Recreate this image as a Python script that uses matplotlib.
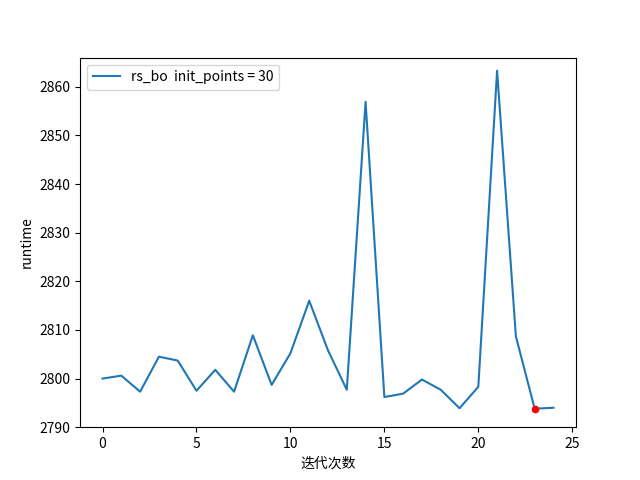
import matplotlib.pyplot as plt

plt.rcParams['font.family'] = ['Noto Sans CJK SC', 'DejaVu Sans']

iters = list(range(25))
runtime = [2800.0, 2800.6, 2797.3, 2804.5, 2803.7, 2797.5, 2801.8, 2797.3, 2808.9, 2798.7,
           2805.2, 2816.0, 2805.8, 2797.7, 2856.9, 2796.2, 2796.9, 2799.8, 2797.7, 2793.9,
           2798.3, 2863.3, 2808.7, 2793.8, 2794.0]
best_x, best_y = 23, 2793.8

fig, ax = plt.subplots(figsize=(6.4, 4.8), dpi=100)
ax.plot(iters, runtime, label='rs_bo  init_points = 30')
ax.scatter([best_x], [best_y], color='red', s=20, zorder=3)
ax.set_ylim(2790, 2866)
ax.set_xlabel('迭代次数')
ax.set_ylabel('runtime')
ax.legend(loc='upper left')
fig.savefig('out.png')
